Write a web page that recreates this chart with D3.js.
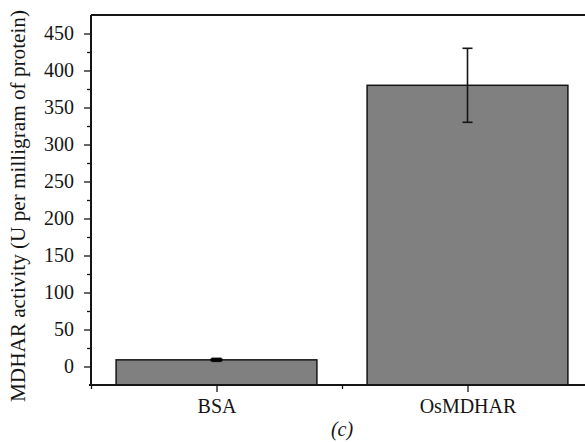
<!DOCTYPE html>
<html>
<head>
<meta charset="utf-8">
<script src="https://cdn.jsdelivr.net/npm/d3@7"></script>
<style>
  body { margin: 0; background: #fff; }
  svg { display: block; }
  svg text { font-family: "Liberation Serif", "Times New Roman", serif; }
</style>
</head>
<body>
<div id="chart"></div>
<script>
// data
const categories = ["BSA", "OsMDHAR"];
const activity = [9, 380];
const errors = [2, 50];
const yTicks = [0, 50, 100, 150, 200, 250, 300, 350, 400, 450];

const width = 585, height = 442;
const margin = { left: 91, top: 15, bottom: 57 };
const plotBottom = height - margin.bottom;
const ink = "#151515";

const svg = d3.select("#chart").append("svg")
  .attr("width", width)
  .attr("height", height);

// categorical positions on a numeric axis (1, 2), range 0.5..2.5
const x = d3.scaleLinear().domain([0.5, 2.5]).range([margin.left, margin.left + 502]);
const y = d3.scaleLinear().domain([-25, 475]).range([plotBottom, margin.top]);
const barW = x(1.8) - x(1);

// bars
svg.selectAll(".bar")
  .data(activity)
  .enter()
  .append("rect")
  .attr("class", "bar")
  .attr("x", (d, i) => x(i + 1) - barW / 2)
  .attr("y", d => y(d))
  .attr("width", barW)
  .attr("height", d => y(-25) - y(d))
  .attr("fill", "#808080")
  .attr("stroke", ink)
  .attr("stroke-width", 1.5);

// error bars
const err = svg.selectAll(".err")
  .data(activity)
  .enter()
  .append("g")
  .attr("class", "err")
  .attr("stroke", ink)
  .attr("stroke-width", 1.6);
err.append("line")
  .attr("x1", (d, i) => x(i + 1)).attr("x2", (d, i) => x(i + 1))
  .attr("y1", (d, i) => y(d + errors[i])).attr("y2", (d, i) => y(d - errors[i]));
err.append("line")
  .attr("x1", (d, i) => x(i + 1) - 5).attr("x2", (d, i) => x(i + 1) + 5)
  .attr("y1", (d, i) => y(d + errors[i])).attr("y2", (d, i) => y(d + errors[i]));
err.append("line")
  .attr("x1", (d, i) => x(i + 1) - 5).attr("x2", (d, i) => x(i + 1) + 5)
  .attr("y1", (d, i) => y(d - errors[i])).attr("y2", (d, i) => y(d - errors[i]));
// the small BSA error bar reads as a solid black block
svg.append("rect")
  .attr("x", x(1) - 6)
  .attr("y", y(activity[0] + errors[0]))
  .attr("width", 12)
  .attr("height", y(activity[0] - errors[0]) - y(activity[0] + errors[0]))
  .attr("fill", "#000");

// top frame line
svg.append("line")
  .attr("x1", x(0.5)).attr("x2", width)
  .attr("y1", margin.top).attr("y2", margin.top)
  .attr("stroke", ink).attr("stroke-width", 2);

// Y axis
const yAxis = svg.append("g")
  .attr("transform", `translate(${x(0.5)},0)`)
  .call(d3.axisLeft(y).tickValues(yTicks).tickSize(7).tickPadding(10));
svg.append("g")
  .attr("transform", `translate(${x(0.5)},0)`)
  .call(d3.axisLeft(y).tickValues(d3.range(25, 475, 50)).tickSize(4).tickFormat(""))
  .call(g => g.select(".domain").remove())
  .selectAll("line").attr("stroke", ink).attr("stroke-width", 1.3);
yAxis.select(".domain").attr("d", `M0,${plotBottom}V${margin.top}`).attr("stroke", ink).attr("stroke-width", 2);
yAxis.selectAll(".tick line").attr("stroke", ink).attr("stroke-width", 1.3);
yAxis.selectAll("text")
  .attr("font-family", "Liberation Serif, serif")
  .attr("font-size", 20)
  .attr("fill", ink);

// X axis
const xAxis = svg.append("g")
  .attr("transform", `translate(0,${plotBottom})`)
  .call(d3.axisBottom(x).tickValues([1, 2]).tickSize(7)
    .tickFormat((d, i) => categories[i]));
svg.append("g")
  .attr("transform", `translate(0,${plotBottom})`)
  .call(d3.axisBottom(x).tickValues([0.5, 1.5]).tickSize(4).tickFormat(""))
  .call(g => g.select(".domain").remove())
  .selectAll("line").attr("stroke", ink).attr("stroke-width", 1.3);
xAxis.select(".domain").attr("d", `M${x(0.5) - 2},0H${width}`).attr("stroke", ink).attr("stroke-width", 2);
xAxis.selectAll(".tick line").attr("stroke", ink).attr("stroke-width", 1.3);
xAxis.selectAll("text")
  .attr("font-family", "Liberation Serif, serif")
  .attr("font-size", 20)
  .attr("fill", ink)
  .attr("y", 28)
  .attr("dy", 0);

// axis label
svg.append("text")
  .attr("transform", "translate(25,206) rotate(-90)")
  .attr("text-anchor", "middle")
  .attr("font-size", 20)
  .attr("textLength", 392)
  .attr("lengthAdjust", "spacingAndGlyphs")
  .attr("fill", ink)
  .text("MDHAR activity (U per milligram of protein)");

// panel label
svg.append("text")
  .attr("x", x(1.5))
  .attr("y", 436)
  .attr("text-anchor", "middle")
  .attr("font-size", 20)
  .attr("font-style", "italic")
  .attr("fill", ink)
  .text("(c)");
</script>
</body>
</html>
